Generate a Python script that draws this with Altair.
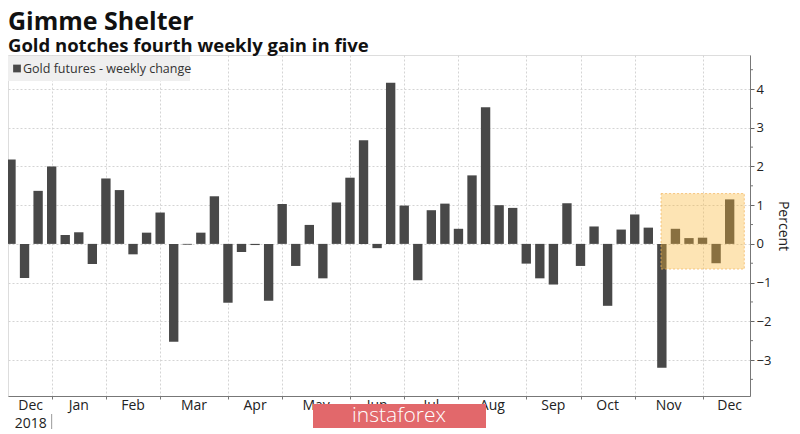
import altair as alt
import pandas as pd

# ---- data ----
weeks = list(range(1, 55))
changes = [2.18, -0.88, 1.37, 2.00, 0.23, 0.30, -0.52, 1.69, 1.39, -0.27,
           0.29, 0.81, -2.53, -0.02, 0.29, 1.23, -1.52, -0.21, -0.03, -1.47,
           1.03, -0.57, 0.49, -0.89, 1.07, 1.71, 2.68, -0.11, 4.16, 0.99,
           -0.94, 0.87, 1.04, 0.39, 1.77, 3.53, 1.00, 0.93, -0.51, -0.89,
           -1.05, 1.05, -0.57, 0.45, -1.60, 0.37, 0.76, 0.42, -3.20, 0.39,
           0.15, 0.16, -0.50, 1.15]
month_names = ["Dec", "Jan", "Feb", "Mar", "Apr", "May", "Jun", "Jul",
               "Aug", "Sep", "Oct", "Nov", "Dec"]
month_bounds = [0.9, 4, 8, 12, 17, 21, 26, 30, 34, 39, 43, 47, 52, 56]
year_label = "2018"
y_ticks = [-3, -2, -1, 0, 1, 2, 3, 4]
y_minor = [-3.5, -2.5, -1.5, -0.5, 0.5, 1.5, 2.5, 3.5, 4.5]
box_x = [48.94, 55.08]
box_y = [1.30, -0.65]
legend_label = "Gold futures - weekly change"
title_text = "Gimme Shelter"
subtitle_text = "Gold notches fourth weekly gain in five"
watermark = "instaforex"

W, H = 742, 341
FONT = "Open Sans"
BAR = "#484848"

df = pd.DataFrame({"week": weeks, "change": changes})
months = pd.DataFrame({
    "name": month_names,
    "pos": [(month_bounds[i] + month_bounds[i + 1]) / 2 for i in range(len(month_names))],
})
minor = pd.DataFrame({"v": y_minor})
box = pd.DataFrame({"x": [box_x[0]], "x2": [box_x[1]], "y": [box_y[0]], "y2": [box_y[1]]})
one = pd.DataFrame({"label": [legend_label]})
year = pd.DataFrame({"name": [year_label], "pos": [months["pos"][0]], "sep": [month_bounds[1]]})
wm = pd.DataFrame({"t": [watermark]})

xscale = alt.Scale(domain=[0.78, 55.5], nice=False, zero=False)
yscale = alt.Scale(domain=[-3.93, 4.88], nice=False, zero=False)

xaxis = alt.Axis(values=month_bounds[1:-1], labels=False, ticks=True, tickSize=3,
                 tickColor="#777777", domainColor="#777777", grid=True,
                 gridDash=[2, 2], gridColor="#d4d4d4", title=None)
yaxis = alt.Axis(orient="right", values=y_ticks, tickSize=4, tickColor="#666666",
                 domainColor="#777777", grid=True, gridDash=[2, 2], gridColor="#d4d4d4",
                 labelFont=FONT, labelFontSize=13, labelColor="#222222", labelPadding=2,
                 title="Percent", titleFont=FONT, titleFontSize=14, titleFontWeight="normal",
                 titleColor="#222222", titleAngle=90, titlePadding=5)

bars = alt.Chart(df).transform_calculate(
    x0="datum.week - 0.345", x1="datum.week + 0.345", zero="0"
).mark_bar(color=BAR, clip=True).encode(
    x=alt.X("x0:Q", scale=xscale, axis=xaxis),
    x2="x1:Q",
    y=alt.Y("change:Q", scale=yscale, axis=yaxis),
    y2="zero:Q",
)

highlight = alt.Chart(box).mark_rect(
    fill="#fab634", fillOpacity=0.37, stroke="#f2b45a", strokeOpacity=0.7,
    strokeDash=[2, 2], strokeWidth=1
).encode(
    x=alt.X("x:Q", scale=xscale, axis=xaxis), x2="x2:Q",
    y=alt.Y("y:Q", scale=yscale, axis=yaxis), y2="y2:Q",
)

minor_ticks = alt.Chart(minor).mark_rule(color="#777777").encode(
    y=alt.Y("v:Q", scale=yscale, axis=yaxis),
    x=alt.value(W), x2=alt.value(W + 3),
)

legend_bg = alt.Chart(one).mark_rect(fill="#efefef").encode(
    x=alt.value(0), x2=alt.value(182), y=alt.value(1), y2=alt.value(26))
legend_sq = alt.Chart(one).mark_square(color=BAR, size=60, opacity=1).encode(
    x=alt.value(9), y=alt.value(13.5))
legend_tx = alt.Chart(one).mark_text(
    align="left", baseline="middle", font=FONT, fontSize=12.5, color="#333333"
).encode(x=alt.value(15), y=alt.value(14), text="label:N")

month_tx = alt.Chart(months).mark_text(
    baseline="middle", font=FONT, fontSize=14, color="#222222"
).encode(x=alt.X("pos:Q", scale=xscale, axis=xaxis), y=alt.value(H + 10), text="name:N")

year_tx = alt.Chart(year).mark_text(
    baseline="middle", font=FONT, fontSize=14, color="#222222"
).encode(x=alt.X("pos:Q", scale=xscale, axis=xaxis), y=alt.value(H + 27.5), text="name:N")

year_sep = alt.Chart(year).mark_rule(color="#999999").encode(
    x=alt.X("sep:Q", scale=xscale, axis=xaxis), y=alt.value(H + 18), y2=alt.value(H + 33))

wm_bg = alt.Chart(wm).mark_rect(fill="#e2686b").encode(
    x=alt.value(305), x2=alt.value(478), y=alt.value(H + 8), y2=alt.value(H + 32))
wm_tx = alt.Chart(wm).mark_text(
    align="center", baseline="middle", font=FONT, fontSize=21, fontWeight=300, color="white"
).encode(x=alt.value(391), y=alt.value(H + 20), text="t:N")

chart = alt.layer(
    bars, highlight, minor_ticks, legend_bg, legend_sq, legend_tx,
    month_tx, year_tx, year_sep, wm_bg, wm_tx
).properties(
    width=W, height=H, padding={"left": 0, "top": 1, "right": 0, "bottom": 0},
    title=alt.TitleParams(
        text=title_text, subtitle=subtitle_text, anchor="start", frame="group",
        font=FONT, fontSize=25, fontWeight="bold", color="#111111",
        subtitleFont=FONT, subtitleFontSize=18.5, subtitleFontWeight="bold",
        subtitleColor="#111111", subtitlePadding=2, offset=0,
    ),
).configure_view(stroke=None).configure(background="white")

chart.save("out.html", embed_options={"renderer": "svg", "actions": False})
